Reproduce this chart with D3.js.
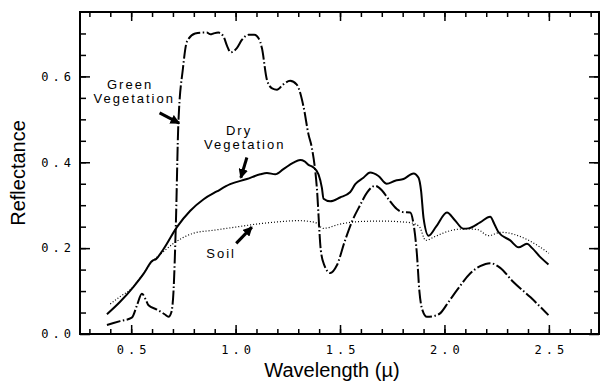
<!DOCTYPE html>
<html>
<head>
<meta charset="utf-8">
<script src="https://cdn.jsdelivr.net/npm/d3@7"></script>
<style>
  body { margin: 0; background: #fff; }
  .tick text { font-family: "DejaVu Sans Mono", monospace; font-size: 12px; fill: #000; letter-spacing: 4px; }
  .tick line { stroke: #000; stroke-width: 1.5; }
  .title { font-family: "Liberation Sans", Arial, sans-serif; font-size: 20px; fill: #000; }
  .note { font-family: "Liberation Sans", Arial, sans-serif; font-size: 13px; fill: #000; letter-spacing: 2px; }
</style>
</head>
<body>
<script>
// wavelength (micron) / reflectance pairs
var green_w = [0.384,0.447,0.503,0.530,0.551,0.570,0.583,0.623,0.660,0.679,0.692,0.703,0.714,0.726,0.748,0.767,0.806,0.840,0.862,0.880,0.894,0.918,0.942,0.960,0.977,1.006,1.030,1.062,1.090,1.110,1.126,1.150,1.175,1.198,1.230,1.261,1.293,1.325,1.349,1.365,1.389,1.408,1.425,1.453,1.485,1.524,1.560,1.595,1.630,1.668,1.700,1.732,1.772,1.800,1.836,1.852,1.868,1.880,1.895,1.916,1.950,1.979,2.020,2.060,2.123,2.171,2.219,2.267,2.330,2.411,2.498];
var green_r = [0.021,0.030,0.038,0.070,0.094,0.080,0.067,0.057,0.046,0.040,0.050,0.102,0.256,0.491,0.619,0.681,0.700,0.702,0.702,0.698,0.700,0.702,0.693,0.670,0.656,0.666,0.685,0.697,0.697,0.689,0.666,0.592,0.572,0.569,0.582,0.590,0.581,0.530,0.465,0.434,0.341,0.195,0.160,0.142,0.160,0.218,0.265,0.299,0.330,0.345,0.335,0.314,0.291,0.284,0.283,0.256,0.187,0.100,0.055,0.040,0.042,0.048,0.075,0.102,0.141,0.158,0.165,0.154,0.121,0.086,0.044];

var dry_w = [0.384,0.447,0.511,0.559,0.600,0.620,0.655,0.719,0.783,0.847,0.910,0.974,1.054,1.118,1.150,1.190,1.229,1.277,1.309,1.330,1.349,1.373,1.397,1.413,1.421,1.453,1.500,1.548,1.573,1.612,1.644,1.684,1.724,1.764,1.804,1.852,1.876,1.888,1.900,1.924,1.960,2.012,2.050,2.091,2.115,2.171,2.219,2.240,2.259,2.315,2.355,2.395,2.420,2.459,2.498];
var dry_r = [0.046,0.075,0.110,0.140,0.170,0.175,0.198,0.249,0.287,0.314,0.332,0.349,0.361,0.372,0.375,0.372,0.384,0.399,0.405,0.402,0.394,0.388,0.372,0.341,0.315,0.309,0.318,0.330,0.349,0.364,0.376,0.368,0.350,0.357,0.361,0.374,0.364,0.334,0.270,0.229,0.250,0.283,0.265,0.245,0.246,0.260,0.273,0.255,0.237,0.218,0.202,0.210,0.200,0.179,0.162];

var soil_w = [0.400,0.450,0.500,0.550,0.600,0.650,0.700,0.750,0.800,0.900,1.000,1.100,1.200,1.300,1.380,1.420,1.500,1.600,1.700,1.800,1.840,1.880,1.910,1.950,2.030,2.100,2.160,2.210,2.270,2.400,2.500];
var soil_r = [0.070,0.088,0.105,0.135,0.168,0.190,0.210,0.225,0.235,0.242,0.249,0.256,0.261,0.264,0.260,0.246,0.256,0.262,0.263,0.261,0.259,0.250,0.218,0.226,0.241,0.245,0.243,0.229,0.237,0.219,0.188];

var x_labels = [0.5, 1.0, 1.5, 2.0, 2.5];
var y_labels = [0.0, 0.2, 0.4, 0.6];

var width = 601, height = 381;
var plot_left = 80, plot_right = 599, plot_top = 12, plot_bottom = 334;

var svg = d3.select("body").append("svg")
  .attr("width", width)
  .attr("height", height);

var x = d3.scaleLinear().domain([0.255, 2.74]).range([plot_left, plot_right]);
var y = d3.scaleLinear().domain([0, 0.75]).range([plot_bottom, plot_top]);

var x_minor = d3.range(3, 28).map(function(d){ return d / 10; });
var y_minor = d3.range(1, 15).map(function(d){ return d / 20; });

function add_axis(axis, tx, ty){
  var g = svg.append("g").attr("transform", "translate(" + tx + "," + ty + ")").call(axis);
  g.select(".domain").remove();
  return g;
}

// minor ticks on all four sides, pointing inward
add_axis(d3.axisBottom(x).tickValues(x_minor).tickSize(-5).tickFormat(""), 0, plot_bottom);
add_axis(d3.axisTop(x).tickValues(x_minor).tickSize(-5).tickFormat(""), 0, plot_top);
add_axis(d3.axisLeft(y).tickValues(y_minor).tickSize(-6).tickFormat(""), plot_left, 0);
add_axis(d3.axisRight(y).tickValues(y_minor).tickSize(-5).tickFormat(""), plot_right, 0);

// major ticks
add_axis(d3.axisBottom(x).tickValues(x_labels).tickSize(-9).tickPadding(11).tickFormat(d3.format(".1f")), 0, plot_bottom)
  .selectAll("text").attr("dx", 2);
add_axis(d3.axisTop(x).tickValues(x_labels).tickSize(-9).tickFormat(""), 0, plot_top);
add_axis(d3.axisLeft(y).tickValues(y_labels).tickSize(-10).tickPadding(5).tickFormat(d3.format(".1f")), plot_left, 0);
add_axis(d3.axisRight(y).tickValues(y_labels).tickSize(-10).tickFormat(""), plot_right, 0);

svg.append("rect")
  .attr("x", plot_left).attr("y", plot_top)
  .attr("width", plot_right - plot_left).attr("height", plot_bottom - plot_top)
  .attr("fill", "none").attr("stroke", "#000").attr("stroke-width", 2);

var line = d3.line()
  .x(function(d){ return x(d[0]); })
  .y(function(d){ return y(d[1]); })
  .curve(d3.curveMonotoneX);

function pairs(w, r){ return w.map(function(d, i){ return [d, r[i]]; }); }

svg.append("path").datum(pairs(soil_w, soil_r))
  .attr("d", line).attr("fill", "none").attr("stroke", "#000")
  .attr("stroke-width", 1.2).attr("stroke-dasharray", "1,2");

svg.append("path").datum(pairs(dry_w, dry_r))
  .attr("d", line).attr("fill", "none").attr("stroke", "#000")
  .attr("stroke-width", 2);

svg.append("path").datum(pairs(green_w, green_r))
  .attr("d", line).attr("fill", "none").attr("stroke", "#000")
  .attr("stroke-width", 2).attr("stroke-dasharray", "14,2.5,1.5,2.5");

// axis titles
svg.append("text").attr("class", "title")
  .attr("x", 332).attr("y", 377).attr("text-anchor", "middle")
  .text("Wavelength (µ)");
svg.append("text").attr("class", "title")
  .attr("transform", "translate(25,173) rotate(-90)")
  .attr("text-anchor", "middle")
  .text("Reflectance");

// annotations
svg.append("defs").append("marker")
  .attr("id", "head").attr("viewBox", "0 0 10 10")
  .attr("refX", 9).attr("refY", 5)
  .attr("markerWidth", 3.2).attr("markerHeight", 3.2)
  .attr("orient", "auto")
  .append("path").attr("d", "M0,0L10,5L0,10z").attr("fill", "#000");

var notes = [
  {lines: ["Green", "Vegetation"], w: [0.490, 0.510], r: [0.570, 0.537], from: [0.636, 0.515], to: [0.730, 0.491]},
  {lines: ["Dry", "Vegetation"], w: [1.012, 1.039], r: [0.463, 0.430], from: [1.054, 0.411], to: [1.025, 0.364]},
  {lines: ["Soil"], w: [0.926], r: [0.178], from: [1.003, 0.211], to: [1.078, 0.249]}
];

notes.forEach(function(n){
  n.lines.forEach(function(t, i){
    svg.append("text").attr("class", "note")
      .attr("x", x(n.w[i]) + 1).attr("y", y(n.r[i]))
      .attr("text-anchor", "middle").text(t);
  });
  svg.append("line")
    .attr("x1", x(n.from[0])).attr("y1", y(n.from[1]))
    .attr("x2", x(n.to[0])).attr("y2", y(n.to[1]))
    .attr("stroke", "#000").attr("stroke-width", 3)
    .attr("marker-end", "url(#head)");
});
</script>
</body>
</html>
